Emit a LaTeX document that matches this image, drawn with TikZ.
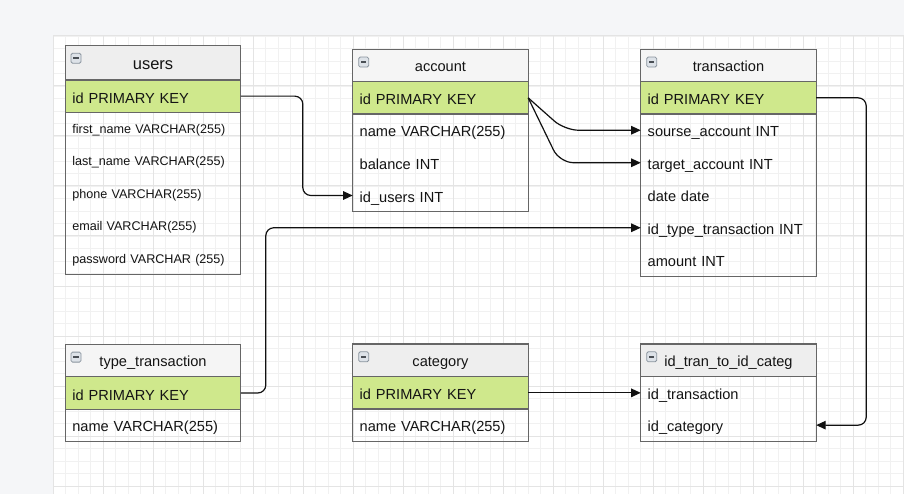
\documentclass[tikz,border=0pt]{standalone}
\usepackage{fontspec}
\setmainfont{Liberation Sans}
\usetikzlibrary{arrows.meta,calc}
\definecolor{pagebg}{HTML}{F5F6F8}
\definecolor{gridminor}{HTML}{F1F1F1}
\definecolor{gridmajor}{HTML}{E4E4E4}
\definecolor{bord}{HTML}{666666}
\definecolor{hdrA}{HTML}{EEEEEE}
\definecolor{hdrB}{HTML}{F5F5F5}
\definecolor{pkgreen}{HTML}{CFE88C}
\definecolor{txt}{HTML}{141414}
\definecolor{iconfill}{HTML}{DDE2E8}
\definecolor{iconbord}{HTML}{8A949E}
\definecolor{icondash}{HTML}{4A4F55}
\definecolor{conncol}{HTML}{111111}
\tikzset{
  tblbase/.style={anchor=north west, inner xsep=7pt, inner ysep=0pt, outer sep=0pt,
    minimum height=32.5pt, text width=161.5pt, align=left, text=txt},
  hdr/.style={tblbase, align=center, fill=#1, draw=bord, line width=1.2pt,
    font=\fontsize{14.6}{16}\selectfont, text height=11.5pt, text depth=0pt},
  bighdr/.style={hdr=#1, minimum height=34.3pt,
    font=\fontsize{16.5}{18}\selectfont, text height=12.5pt},
  pkrow/.style={tblbase, fill=pkgreen, draw=bord, line width=1.2pt,
    font=\fontsize{14.6}{16}\selectfont, text height=14pt, text depth=0pt},
  fieldrow/.style={tblbase, font=\fontsize{14.6}{16}\selectfont,
    text height=13.2pt, text depth=0pt},
  smallrow/.style={fieldrow, font=\fontsize{12.6}{14}\selectfont, text height=9.8pt},
  frame/.style={draw=bord, line width=1.2pt},
  iconbox/.style={minimum size=10pt, inner sep=0pt, rounded corners=1.5pt,
    fill=iconfill, draw=iconbord, line width=0.8pt,
    path picture={\draw[line width=1.7pt, draw=icondash]
      ($(path picture bounding box.west)+(2.3pt,0)$) --
      ($(path picture bounding box.east)+(-2.3pt,0)$);}},
  conn/.style={draw=conncol, line width=1.2pt,
    -{Triangle[length=9.5pt,width=8.5pt]}},
}
\begin{document}
\begin{tikzpicture}[x=1pt,y=-1pt]
\useasboundingbox (0,0) rectangle (904,494);
% background and grid
\fill[pagebg] (0,0) rectangle (904,494);
\fill[white] (53,36) rectangle (904,494);
\foreach \i in {0,...,68} {
  \pgfmathsetmacro\xx{53+12.5*\i}
  \draw[gridminor, line width=0.8pt] (\xx,36) -- (\xx,494);
}
\foreach \i in {0,...,36} {
  \pgfmathsetmacro\yy{36+12.5*\i}
  \draw[gridminor, line width=0.8pt] (53,\yy) -- (904,\yy);
}
\foreach \i in {0,...,17} {
  \pgfmathsetmacro\xx{53+50*\i}
  \draw[gridmajor, line width=1pt] (\xx,36) -- (\xx,494);
}
\foreach \i in {0,...,9} {
  \pgfmathsetmacro\yy{36+50*\i}
  \draw[gridmajor, line width=1pt] (53,\yy) -- (904,\yy);
}

% ---------- users ----------
\node[bighdr=hdrA] (users-h) at (65.3,45.7) {users};
\node[pkrow, minimum height=32.3pt] (users-pk) at (users-h.south west) {id PRIMARY KEY};
\node[smallrow, minimum height=32.4pt] (users-r1) at (users-pk.south west) {first\_name VARCHAR(255)};
\node[smallrow, minimum height=32.4pt] (users-r2) at (users-r1.south west) {last\_name VARCHAR(255)};
\node[smallrow, minimum height=32.4pt] (users-r3) at (users-r2.south west) {phone VARCHAR(255)};
\node[smallrow, minimum height=32.4pt] (users-r4) at (users-r3.south west) {email VARCHAR(255)};
\node[smallrow, minimum height=32.4pt] (users-r5) at (users-r4.south west) {password VARCHAR (255)};
\draw[frame] (users-h.north west) rectangle (users-r5.south east);
\node[iconbox] (users-ic) at ($(users-h.north west)+(10.7,12.6)$) {};

% ---------- account ----------
\node[hdr=hdrB, minimum height=32.4pt] (account-h) at (352.7,49.3) {account};
\node[pkrow, minimum height=32.3pt] (account-pk) at (account-h.south west) {id PRIMARY KEY};
\node[fieldrow, minimum height=32.6pt] (account-r1) at (account-pk.south west) {name VARCHAR(255)};
\node[fieldrow, minimum height=32.6pt] (account-r2) at (account-r1.south west) {balance INT};
\node[fieldrow, minimum height=32.6pt] (account-r3) at (account-r2.south west) {id\_users INT};
\draw[frame] (account-h.north west) rectangle (account-r3.south east);
\node[iconbox] (account-ic) at ($(account-h.north west)+(11,12.8)$) {};

% ---------- transaction ----------
\node[hdr=hdrB, minimum height=32.4pt] (transaction-h) at (640.7,49.3) {transaction};
\node[pkrow, minimum height=32.3pt] (transaction-pk) at (transaction-h.south west) {id PRIMARY KEY};
\node[fieldrow, minimum height=32.5pt] (transaction-r1) at (transaction-pk.south west) {sourse\_account INT};
\node[fieldrow, minimum height=32.5pt] (transaction-r2) at (transaction-r1.south west) {target\_account INT};
\node[fieldrow, minimum height=32.5pt] (transaction-r3) at (transaction-r2.south west) {date date};
\node[fieldrow, minimum height=32.5pt] (transaction-r4) at (transaction-r3.south west) {id\_type\_transaction INT};
\node[fieldrow, minimum height=32.5pt] (transaction-r5) at (transaction-r4.south west) {amount INT};
\draw[frame] (transaction-h.north west) rectangle (transaction-r5.south east);
\node[iconbox] (transaction-ic) at ($(transaction-h.north west)+(11,12.8)$) {};

% ---------- type_transaction ----------
\node[hdr=hdrB, minimum height=32.4pt] (tt-h) at (65.3,344.3) {type\_transaction};
\node[pkrow, minimum height=32.6pt] (tt-pk) at (tt-h.south west) {id PRIMARY KEY};
\node[fieldrow, minimum height=32pt] (tt-r1) at (tt-pk.south west) {name VARCHAR(255)};
\draw[frame] (tt-h.north west) rectangle (tt-r1.south east);
\node[iconbox] (tt-ic) at ($(tt-h.north west)+(10.7,12.8)$) {};

% ---------- category ----------
\node[hdr=hdrA, minimum height=32.7pt] (category-h) at (352.7,344) {category};
\node[pkrow, minimum height=32.3pt] (category-pk) at (category-h.south west) {id PRIMARY KEY};
\node[fieldrow, minimum height=32.3pt] (category-r1) at (category-pk.south west) {name VARCHAR(255)};
\draw[frame] (category-h.north west) rectangle (category-r1.south east);
\node[iconbox] (category-ic) at ($(category-h.north west)+(11,12.8)$) {};

% ---------- id_tran_to_id_categ ----------
\node[hdr=hdrA, minimum height=32.7pt] (idt-h) at (640.7,344) {id\_tran\_to\_id\_categ};
\node[fieldrow, minimum height=32.3pt] (idt-r1) at (idt-h.south west) {id\_transaction};
\node[fieldrow, minimum height=32.3pt] (idt-r2) at (idt-r1.south west) {id\_category};
\draw[frame] (idt-h.north west) rectangle (idt-r2.south east);
\node[iconbox] (idt-ic) at ($(idt-h.north west)+(11,12.8)$) {};

% ---------- connectors ----------
\draw[conn, rounded corners=8pt] (users-pk.east) -- ++(62,0) |- (account-r3.west);
\draw[conn, rounded corners=14pt] (account-pk.east) -- ($(transaction-r1.west)+(-76,0)$) -- (transaction-r1.west);
\draw[conn, rounded corners=14pt] (account-pk.east) -- ($(transaction-r2.west)+(-81,0)$) -- (transaction-r2.west);
\draw[conn, rounded corners=8pt] (transaction-pk.east) -- ++(50,0) |- (idt-r2.east);
\draw[conn, rounded corners=8pt] (tt-pk.east) -- ++(25,0) |- (transaction-r4.west);
\draw[conn] (category-pk.east) -- (category-pk.east -| idt-r1.west);
\end{tikzpicture}
\end{document}
